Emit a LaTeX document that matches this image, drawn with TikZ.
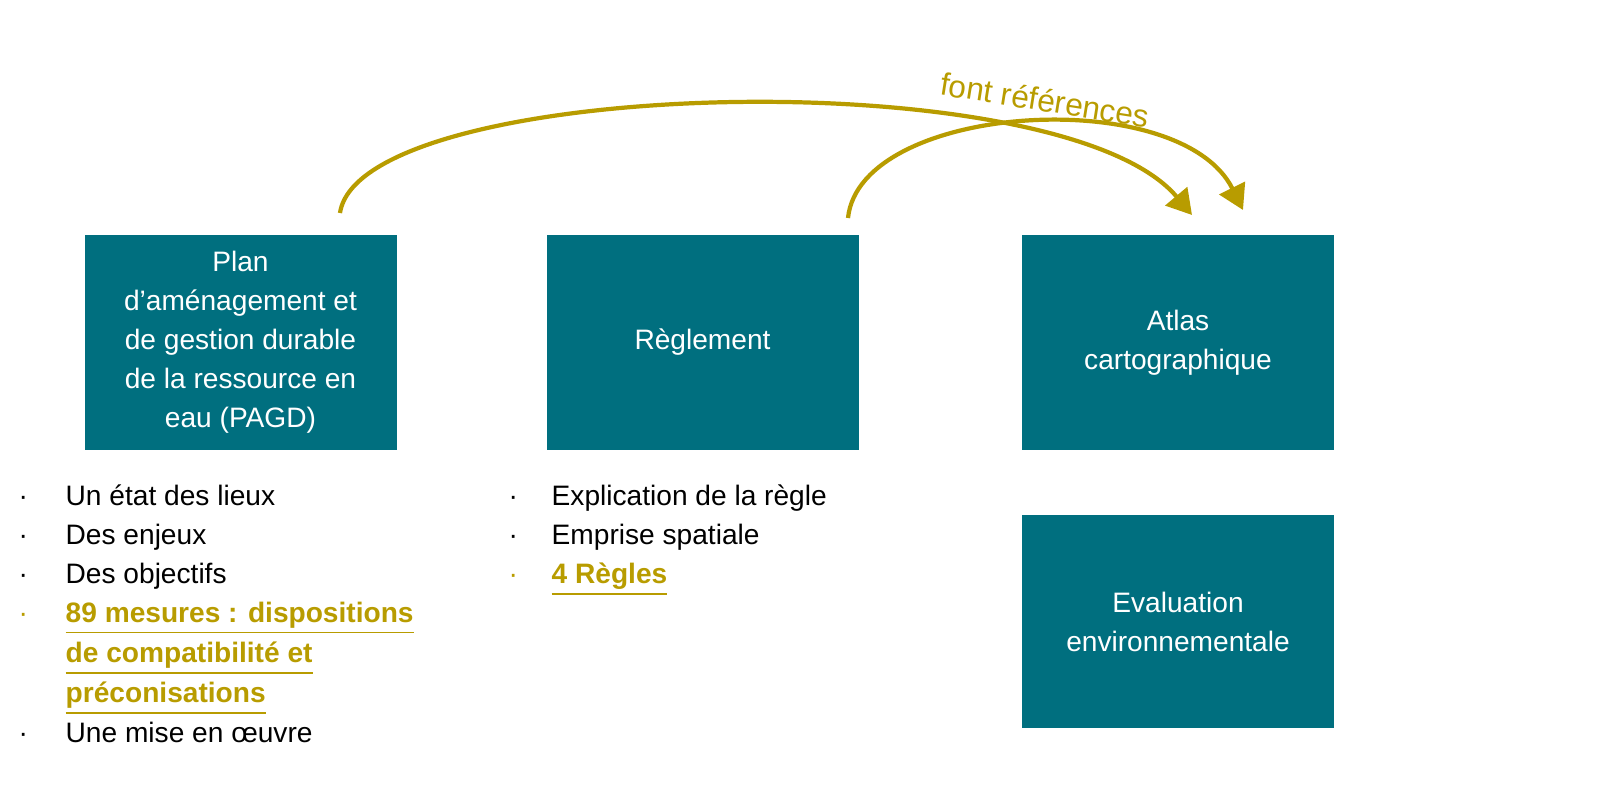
\documentclass[tikz,border=0pt]{standalone}
\usepackage{fontspec}
\setmainfont{Liberation Sans}
\usetikzlibrary{arrows.meta}
\definecolor{sageteal}{HTML}{006F7F}
\definecolor{sagegold}{HTML}{B89C00}
\newcommand{\goldit}[1]{\textcolor{sagegold}{\textbf{\underline{#1}}}}
\newcommand{\dotb}{\textperiodcentered}
\begin{document}
\begin{tikzpicture}[font=\fontsize{8pt}{11.1pt}\selectfont]
        \tikzset{docbox/.style={rectangle, fill=sageteal, text=white, minimum width=3.12cm, minimum height=2.15cm, align=center, inner sep=0pt},
            reflink/.style={draw=sagegold, line width=1.2pt, -{Triangle[width=8pt,length=7pt]}},
            doclist/.style={anchor=base west, inner sep=0pt, align=left}}
        \useasboundingbox (0,0) rectangle (15.99,7.93);

        \node[docbox] (P) at (2.405,4.505) {Plan\\d’aménagement et\\de gestion durable\\de la ressource en\\eau (PAGD)};
        \node[docbox] (R) at (7.025,4.505) {Règlement};
        \node[docbox] (A) at (11.78,4.505) {Atlas\\cartographique};
        \node[docbox, minimum height=2.13cm] (E) at (11.78,1.715) {Evaluation\\environnementale};

        \coordinate (pstart) at (3.40,5.80);
        \coordinate (rstart) at (8.48,5.75);
        \coordinate (aend1) at (11.92,5.78);
        \coordinate (aend2) at (12.43,5.83);

        \draw[reflink] (pstart) .. controls (3.6,7.15) and (10.6,7.35) .. (aend1);
        \draw[reflink] (rstart) .. controls (8.6,6.9) and (11.8,7.1) .. (aend2);
        \node[text=sagegold, rotate=-9, font=\fontsize{9pt}{11pt}\selectfont] (lbl) at (10.45,6.93) {font références};

        \node[doclist] (L1) at (0.18,2.88) {\begin{tabular}[t]{@{}p{0.47cm}@{}l@{}}
            \dotb & Un état des lieux\\
            \dotb & Des enjeux\\
            \dotb & Des objectifs\\
            \textcolor{sagegold}{\dotb} & \goldit{89 mesures : dispositions}\\
             & \goldit{de compatibilité et}\\
             & \goldit{préconisations}\\
            \dotb & Une mise en œuvre
        \end{tabular}};
        \node[doclist] (L2) at (5.08,2.88) {\begin{tabular}[t]{@{}p{0.43cm}@{}l@{}}
            \dotb & Explication de la règle\\
            \dotb & Emprise spatiale\\
            \textcolor{sagegold}{\dotb} & \goldit{4 Règles}
        \end{tabular}};
\end{tikzpicture}
\end{document}
